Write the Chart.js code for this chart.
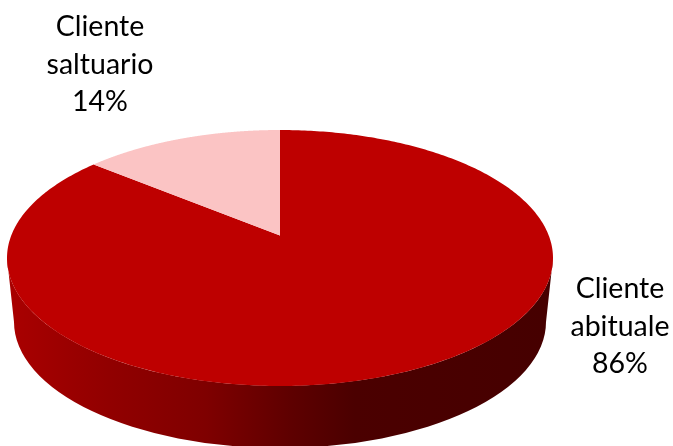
<!DOCTYPE html>
<html>
<head>
<meta charset="utf-8">
<style>
html,body{margin:0;padding:0;background:#fff;overflow:hidden}
#wrap{position:relative;width:673px;height:446px}
</style>
<script src="https://cdn.jsdelivr.net/npm/chart.js@4"></script>
</head>
<body>
<div id="wrap"><canvas id="c" width="673" height="446"></canvas></div>
<script>
const categories = ["Cliente abituale", "Cliente saltuario"];
const values = [86, 14];
const sliceColors = ["#BE0000", "#FBC4C4"];
const labelLines = [["Cliente", "abituale", "86%"], ["Cliente", "saltuario", "14%"]];

const squash = 128 / 273;
const shift = -0.175;
const wall = { dy: 64, a: 266, b: 126 };
const labelSpots = [{ x: 620, y: 289 }, { x: 100, y: 27 }];
const lineStep = 37.5;

function project(el, a) {
  const ux = Math.cos(a), uy = Math.sin(a);
  const d = 1 + shift * uy;
  const px = ux * Math.sqrt(1 - shift * shift) / d;
  const py = (uy + shift) / d;
  return [el.x + px * el.outerRadius, el.y + py * el.outerRadius * squash];
}

const pie3d = {
  id: "pie3d",
  beforeDatasetDraw(chart, args) {
    const ctx = chart.ctx;
    const arcs = chart.getDatasetMeta(args.index).data;
    const el = arcs[0];
    const R = el.outerRadius, tb = R * squash, cy2 = el.y + wall.dy;

    const g = ctx.createLinearGradient(el.x - wall.a, 0, el.x + wall.a, 0);
    g.addColorStop(0, "#A80000");
    g.addColorStop(0.17, "#920000");
    g.addColorStop(0.36, "#7F0000");
    g.addColorStop(0.52, "#5E0000");
    g.addColorStop(0.64, "#4B0000");
    g.addColorStop(1, "#460000");
    ctx.save();
    ctx.fillStyle = g;
    ctx.beginPath();
    ctx.moveTo(el.x - R, el.y);
    ctx.lineTo(el.x - wall.a, cy2);
    ctx.ellipse(el.x, cy2, wall.a, wall.b, 0, Math.PI, 0, true);
    ctx.lineTo(el.x + R, el.y);
    ctx.ellipse(el.x, el.y, R, tb, 0, 0, Math.PI, false);
    ctx.closePath();
    ctx.fill();

    arcs.forEach((arc, i) => {
      ctx.fillStyle = sliceColors[i];
      ctx.beginPath();
      ctx.moveTo(arc.x, arc.y + shift * R * squash);
      const n = 400;
      for (let s = 0; s <= n; s++) {
        const p = project(arc, arc.startAngle + (arc.endAngle - arc.startAngle) * s / n);
        ctx.lineTo(p[0], p[1]);
      }
      ctx.closePath();
      ctx.fill();
    });
    ctx.restore();
    return false;
  },
  afterDraw(chart) {
    const ctx = chart.ctx;
    ctx.save();
    ctx.fillStyle = "#000";
    ctx.font = "28.5px Lato";
    ctx.textAlign = "center";
    ctx.textBaseline = "middle";
    labelLines.forEach((lines, i) => {
      lines.forEach((t, j) => ctx.fillText(t, labelSpots[i].x, labelSpots[i].y + j * lineStep));
    });
    ctx.restore();
  }
};

new Chart(document.getElementById("c"), {
  type: "pie",
  data: { labels: categories, datasets: [{ data: values, backgroundColor: sliceColors, borderWidth: 0, radius: 273 }] },
  options: {
    responsive: false,
    animation: false,
    layout: { padding: { top: 70, bottom: 0, left: 0, right: 113 } },
    plugins: { legend: { display: false }, tooltip: { enabled: false } }
  },
  plugins: [pie3d]
});
</script>
</body>
</html>
